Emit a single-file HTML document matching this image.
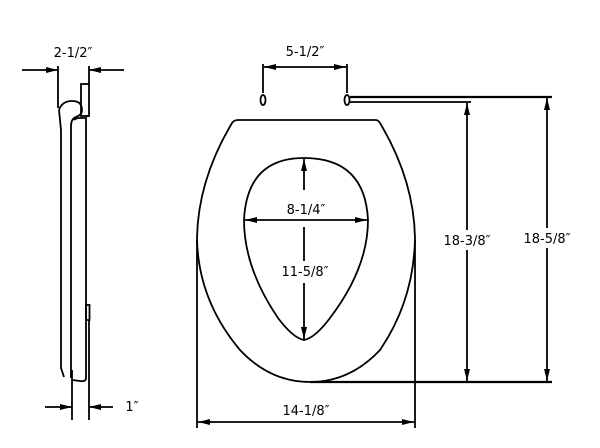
<!DOCTYPE html>
<html><head><style>
body{margin:0;background:#fff}
svg{display:block}
text{font-family:"DejaVu Sans","Liberation Sans",sans-serif;font-size:13px;fill:#000}
</style></head><body>
<svg width="600" height="448" viewBox="0 0 600 448" xmlns="http://www.w3.org/2000/svg">
<defs>
<marker id="a" viewBox="0 0 12 6" refX="12" refY="3" markerWidth="12" markerHeight="6" orient="auto" markerUnits="userSpaceOnUse"><path d="M0,0L12,3L0,6z" fill="#000"/></marker>
</defs>
<g fill="none" stroke="#000" stroke-width="1.8">
<line x1="22" y1="70" x2="58" y2="70" marker-end="url(#a)"/>
<line x1="124" y1="70" x2="89" y2="70" marker-end="url(#a)"/>
<line x1="58" y1="66" x2="58" y2="108"/>
<line x1="89" y1="66" x2="89" y2="84"/>
<rect x="81" y="84" width="8" height="32"/>
<path d="M59,110 Q62,101 72,101 Q82,101 82,110 Q82,115 76,117 Q71,119 71,126 L71,360 L71,378"/>
<path d="M59,110 L61,130 L61,368 L64,377"/>
<path d="M74,120 Q76,118 80,118 L86,118 L86,378 Q86,382 80,381 L72,380"/>
<line x1="86" y1="116" x2="89" y2="116"/>
<rect x="86" y="305" width="3.5" height="15"/>
<line x1="72" y1="370" x2="72" y2="420"/>
<line x1="89" y1="320" x2="89" y2="420"/>
<line x1="45" y1="407" x2="72" y2="407" marker-end="url(#a)"/>
<line x1="113" y1="407" x2="89" y2="407" marker-end="url(#a)"/>
<line x1="263" y1="64" x2="263" y2="93"/>
<line x1="347" y1="64" x2="347" y2="93"/>
<line x1="280" y1="67" x2="264" y2="67" marker-end="url(#a)"/>
<line x1="330" y1="67" x2="346" y2="67" marker-end="url(#a)"/>
<line x1="280" y1="67" x2="330" y2="67"/>
<ellipse cx="263" cy="100" rx="2.5" ry="5"/>
<ellipse cx="347" cy="100" rx="2.5" ry="5"/>
<line x1="350" y1="97" x2="552" y2="97" stroke-width="2.2"/>
<line x1="350" y1="102" x2="471" y2="102"/>
<path d="M238,120 L376,120 Q378,120 380,123 Q414,180 415,238 Q414,300 380,350 Q350,382 310,382 Q270,382 240,350 Q198,300 197,238 Q198,180 232,123 Q234,120 238,120 Z"/>
<path d="M304,158 Q365,158 368,220 Q368,268 330,318 Q315,338 304,340 Q293,338 278,318 Q244,268 244,220 Q247,158 304,158 Z"/>
<line x1="197" y1="240" x2="197" y2="428"/>
<line x1="415" y1="240" x2="415" y2="428"/>
<line x1="305" y1="422" x2="198" y2="422" marker-end="url(#a)"/>
<line x1="305" y1="422" x2="414" y2="422" marker-end="url(#a)"/>
<line x1="304" y1="220" x2="245" y2="220" marker-end="url(#a)"/>
<line x1="304" y1="220" x2="367" y2="220" marker-end="url(#a)"/>
<line x1="304" y1="190" x2="304" y2="159" marker-end="url(#a)"/>
<line x1="304" y1="227" x2="304" y2="261"/>
<line x1="304" y1="283" x2="304" y2="339" marker-end="url(#a)"/>
<line x1="310" y1="382" x2="552" y2="382" stroke-width="2.2"/>
<line x1="467" y1="230" x2="467" y2="103" marker-end="url(#a)"/>
<line x1="467" y1="250" x2="467" y2="381" marker-end="url(#a)"/>
<line x1="547" y1="228" x2="547" y2="98" marker-end="url(#a)"/>
<line x1="547" y1="248" x2="547" y2="381" marker-end="url(#a)"/>
</g>
<text x="73" y="57" text-anchor="middle">2-1/2″</text>
<text x="132" y="411" text-anchor="middle">1″</text>
<text x="305" y="56" text-anchor="middle">5-1/2″</text>
<text x="306" y="214" text-anchor="middle">8-1/4″</text>
<text x="305" y="276" text-anchor="middle">11-5/8″</text>
<text x="306" y="415" text-anchor="middle">14-1/8″</text>
<text x="467" y="245" text-anchor="middle">18-3/8″</text>
<text x="547" y="243" text-anchor="middle">18-5/8″</text>
</svg>
</body></html>
